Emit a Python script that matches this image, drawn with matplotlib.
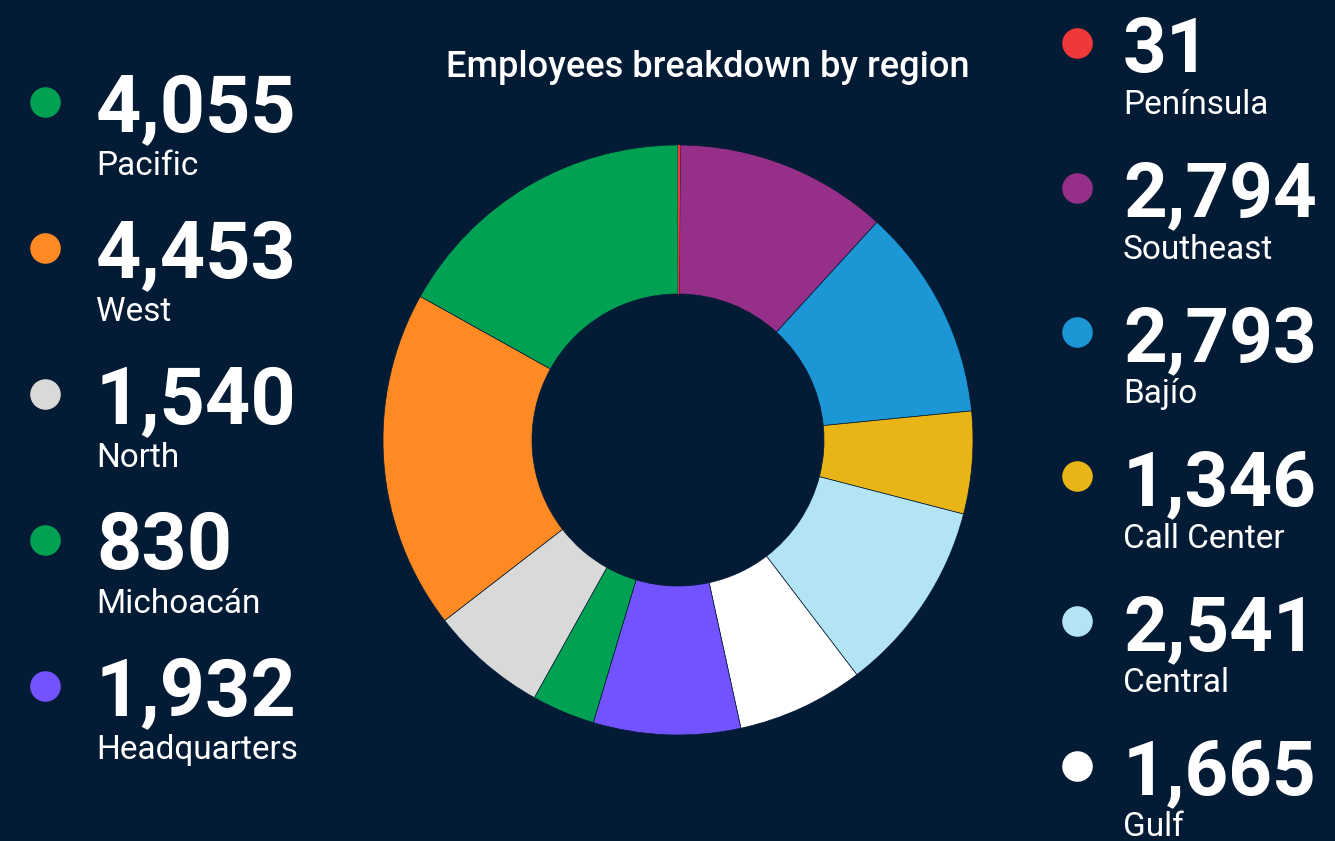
import matplotlib
matplotlib.use("Agg")
import matplotlib.pyplot as plt

# data (clockwise from 12 o'clock)
regions = ["Península", "Southeast", "Bajío", "Call Center", "Central", "Gulf",
           "Headquarters", "Michoacán", "North", "West", "Pacific"]
employees = [31, 2794, 2793, 1346, 2541, 1665, 1932, 830, 1540, 4453, 4055]
colors = ["#f0383a", "#952f88", "#1c96d5", "#e8b416", "#b3e4f4", "#ffffff",
          "#7353ff", "#00a153", "#d9d9d9", "#ff8a24", "#00a153"]

left_col = ["Pacific", "West", "North", "Michoacán", "Headquarters"]
right_col = ["Península", "Southeast", "Bajío", "Call Center", "Central", "Gulf"]

bg = "#031b35"
W, H = 1335, 841
fig = plt.figure(figsize=(W / 100, H / 100), dpi=100, facecolor=bg)
plt.rcParams["font.family"] = ["Roboto", "DejaVu Sans"]

cx, cy, r = 678, 440, 295
ax = fig.add_axes([(cx - r) / W, (H - cy - r) / H, 2 * r / W, 2 * r / H])
wedges, _ = ax.pie(employees, colors=colors, startangle=90, counterclock=False, radius=1,
                   wedgeprops=dict(width=0.505, edgecolor=bg, linewidth=0.5))
# tiny slice: no outline so it stays visible
wedges[0].set_linewidth(0)
wedges[0].set_zorder(5)
ax.set_xlim(-1, 1)
ax.set_ylim(-1, 1)
ax.set_aspect("equal")
ax.axis("off")

fig.text(708 / W, 1 - 77 / H, "Employees breakdown by region", color="white",
         fontsize=26, fontweight="medium", ha="center", va="baseline")


def entry(name, dot_x, num_x, base_y, gap, size):
    i = regions.index(name)
    fig.text(num_x / W, 1 - base_y / H, f"{employees[i]:,}", color="white",
             fontsize=size, fontweight="bold", ha="left", va="baseline")
    fig.text(num_x / W, 1 - (base_y + gap) / H, name, color="white",
             fontsize=24, ha="left", va="baseline")
    fig.lines.append(plt.Line2D([dot_x / W], [1 - (base_y - 29) / H], marker="o",
                                markersize=21, color=colors[i], linestyle="none",
                                transform=fig.transFigure))


for k, name in enumerate(left_col):
    entry(name, 45, 96, 131 + k * 146, 44, 57)

for k, name in enumerate(right_col):
    entry(name, 1077, 1123, 72 + k * 144.5, 42, 55)

fig.savefig("out.png", dpi=100, facecolor=bg)
